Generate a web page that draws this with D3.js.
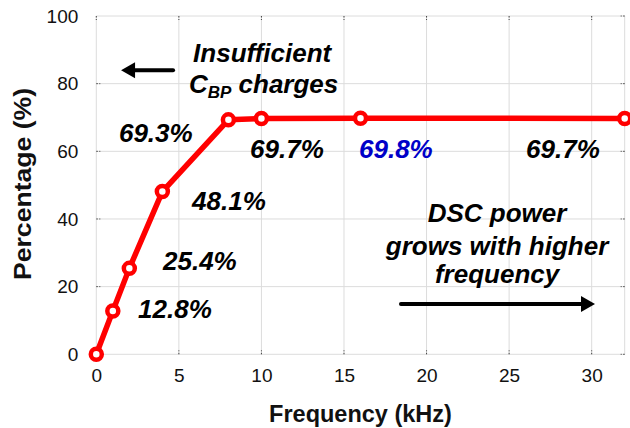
<!DOCTYPE html>
<html><head><meta charset="utf-8">
<script src="https://cdn.jsdelivr.net/npm/d3@7"></script>
<style>body{margin:0;background:#fff}svg{display:block}text{font-family:"Liberation Sans",Arial,sans-serif}</style>
</head><body>
<script>
const freq = [0, 1, 2, 4, 8, 10, 16, 32];
const pct = [0, 12.8, 25.4, 48.1, 69.3, 69.7, 69.8, 69.7];
const xTicks = [0, 5, 10, 15, 20, 25, 30];
const yTicks = [0, 20, 40, 60, 80, 100];
const labelText = ["12.8%", "25.4%", "48.1%", "69.3%", "69.7%", "69.8%", "69.7%"];
const labelX = [2.53, 4.04, 5.8, 1.37, 9.31, 15.91, 26.03];
const labelY = [10.7, 24.9, 42.7, 62.7, 58.0, 58.0, 58.0];
const labelColor = ["#000", "#000", "#000", "#000", "#000", "#0000c8", "#000"];

const W = 630, H = 428;
const svg = d3.select("body").append("svg").attr("width", W).attr("height", H);
const x = d3.scaleLinear().domain([0, 32]).range([96.3, 624.7]);
const y = d3.scaleLinear().domain([0, 100]).range([354.3, 16]);

// grid
const g = svg.append("g");
g.selectAll(".vg").data(xTicks.concat([32])).join("line")
  .attr("x1", d => x(d)).attr("x2", d => x(d)).attr("y1", y(0)).attr("y2", y(100))
  .attr("stroke", "#dcdcdc").attr("stroke-width", 1);
g.selectAll(".hg").data(yTicks).join("line")
  .attr("x1", x(0)).attr("x2", x(32)).attr("y1", d => y(d)).attr("y2", d => y(d))
  .attr("stroke", "#dcdcdc").attr("stroke-width", 1);

// axes (tick labels + small inner ticks)
const xAxis = d3.axisBottom(x).tickValues(xTicks).tickSize(0).tickPadding(14);
const xa = svg.append("g").attr("transform", `translate(0,${y(0)})`).call(xAxis);
xa.select(".domain").remove();
xa.selectAll("text").attr("font-size", 19).attr("fill", "#111").attr("font-family", "Liberation Sans, Arial, sans-serif");
const yAxis = d3.axisLeft(y).tickValues(yTicks).tickSize(0).tickPadding(18);
const ya = svg.append("g").attr("transform", `translate(${x(0)},0)`).call(yAxis);
ya.select(".domain").remove();
ya.selectAll("text").attr("font-size", 19).attr("fill", "#111").attr("font-family", "Liberation Sans, Arial, sans-serif");

// inner tick marks
const tk = svg.append("g").attr("stroke", "#444").attr("stroke-width", 1).attr("stroke-dasharray", "1.5,1.5");
const xt = xTicks.filter(d => d > 0);
tk.selectAll(".tb").data(xt).join("line").attr("x1", d => x(d)).attr("x2", d => x(d)).attr("y1", y(0)).attr("y2", y(0) - 4);
tk.selectAll(".tt").data(xTicks).join("line").attr("x1", d => x(d)).attr("x2", d => x(d)).attr("y1", y(100)).attr("y2", y(100) + 4);
tk.selectAll(".tl").data(yTicks.filter(d => d > 0 && d < 100)).join("line").attr("x1", x(0)).attr("x2", x(0) + 4).attr("y1", d => y(d)).attr("y2", d => y(d));
tk.selectAll(".tr").data(yTicks).join("line").attr("x1", x(32)).attr("x2", x(32) - 4).attr("y1", d => y(d)).attr("y2", d => y(d));

// axis titles
svg.append("text").attr("x", (x(0) + x(32)) / 2 + 0).attr("y", 422).attr("text-anchor", "middle")
  .attr("font-size", 23.5).attr("font-weight", "bold").attr("fill", "#111").text("Frequency (kHz)");
svg.append("text").attr("transform", `translate(31,${(88 + 280) / 2}) rotate(-90)`).attr("text-anchor", "middle")
  .attr("font-size", 24).attr("font-weight", "bold").attr("fill", "#111")
  .attr("textLength", 192).attr("lengthAdjust", "spacingAndGlyphs").text("Percentage (%)");

// data line
const pts = freq.map((f, i) => [f, pct[i]]);
svg.append("path").datum(pts)
  .attr("d", d3.line().x(d => x(d[0])).y(d => y(d[1])))
  .attr("fill", "none").attr("stroke", "#ff0000").attr("stroke-width", 5.5).attr("stroke-linejoin", "round");
svg.selectAll(".pt").data(pts).join("circle")
  .attr("cx", d => x(d[0])).attr("cy", d => y(d[1])).attr("r", 5.5)
  .attr("fill", "#fff").attr("stroke", "#ff0000").attr("stroke-width", 4.5);

// value labels
const ann = "font-weight:bold;font-style:italic;";
svg.selectAll(".lab").data(labelText).join("text")
  .attr("x", (d, i) => x(labelX[i])).attr("y", (d, i) => y(labelY[i]))
  .attr("style", ann).attr("font-size", 26).attr("fill", (d, i) => labelColor[i]).text(d => d);

// annotations
svg.append("text").attr("x", x(5.86)).attr("y", y(86.4)).attr("style", ann).attr("font-size", 26).text("Insufficient");
const t2 = svg.append("text").attr("x", x(5.61)).attr("y", y(77.2)).attr("style", ann).attr("font-size", 26);
t2.append("tspan").text("C");
t2.append("tspan").attr("font-size", 17).attr("dy", 5).text("BP");
t2.append("tspan").attr("dy", -5).text(" charges");
[["DSC power", 39.1], ["grows with higher", 29.4], ["frequency", 21.1]].forEach(([t, v]) => {
  svg.append("text").attr("x", x(24.27)).attr("y", y(v)).attr("text-anchor", "middle")
    .attr("style", ann).attr("font-size", 26).text(t);
});

// arrows
function arrow(x0, x1, yv) {
  const px0 = x(x0), px1 = x(x1), py = y(yv);
  const dir = Math.sign(px1 - px0), hl = 14, hw = 8;
  svg.append("line").attr("x1", px0).attr("x2", px1 - dir * hl * 0.8).attr("y1", py).attr("y2", py)
    .attr("stroke", "#000").attr("stroke-width", 4).attr("stroke-linecap", "round");
  svg.append("path").attr("d", `M${px1},${py}L${px1 - dir * hl},${py - hw}L${px1 - dir * hl},${py + hw}Z`).attr("fill", "#000");
}
arrow(4.65, 1.5, 84.0);
arrow(18.45, 30.2, 14.9);
</script>
</body></html>
